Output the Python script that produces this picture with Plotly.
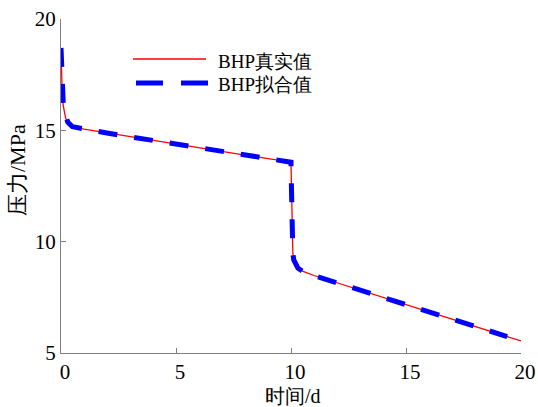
import plotly.graph_objects as go

# Bottom-hole pressure history (time in days, pressure in MPa)
t_true = [0, 0.02, 0.05, 0.1, 0.15, 0.2, 0.3, 0.5, 1, 2, 3, 4, 5, 6, 7, 8, 9, 10.0,
          10.02, 10.04, 10.06, 10.08, 10.12, 10.2, 10.3, 10.5, 11, 12, 13, 14, 15,
          16, 17, 18, 19, 20]
p_true = [18.6, 17.6, 16.8, 16.1, 15.75, 15.55, 15.35, 15.15, 15.05, 14.88, 14.72,
          14.55, 14.39, 14.22, 14.06, 13.89, 13.73, 13.58,
          12.5, 11.0, 10.0, 9.5, 9.2, 8.95, 8.82, 8.68, 8.48, 8.16, 7.83, 7.50, 7.18,
          6.85, 6.52, 6.20, 5.87, 5.54]

t_fit = [0, 0.02, 0.05, 0.1, 0.15, 0.2, 0.3, 0.5, 1, 2, 3, 4, 5, 6, 7, 8, 9, 10.0,
         10.02, 10.04, 10.06, 10.08, 10.12, 10.2, 10.3, 10.5, 11, 12, 13, 14, 15,
         16, 17, 18, 19, 19.4]
p_fit = [18.7, 17.7, 16.9, 16.15, 15.78, 15.57, 15.36, 15.16, 15.05, 14.88, 14.71,
         14.55, 14.38, 14.22, 14.05, 13.89, 13.72, 13.57,
         12.4, 10.9, 9.95, 9.48, 9.18, 8.94, 8.81, 8.67, 8.47, 8.15, 7.83, 7.50, 7.17,
         6.85, 6.52, 6.19, 5.87, 5.74]

legend_labels = ["BHP真实值", "BHP拟合值"]
x_title = "时间/d"
y_title = "压力/MPa"
x_ticks = [0, 5, 10, 15, 20]
y_ticks = [5, 10, 15, 20]

FONT = "Liberation Serif"
AXIS_GRAY = "#808080"

fig = go.Figure()
fig.add_trace(go.Scatter(x=t_true, y=p_true, mode="lines",
                         line=dict(color="#ff0000", width=1.3),
                         name=legend_labels[0], showlegend=False))
fig.add_trace(go.Scatter(x=t_fit, y=p_fit, mode="lines",
                         line=dict(color="#0000ff", width=5, dash="19px,17px"),
                         name=legend_labels[1], showlegend=False))

# Page-pixel helpers for the legend block and axis titles
L, R, T, B = 61, 17, 19, 54
W, H = 538 - L - R, 407 - T - B


def px(xp):
    return (xp - L) / W


def py(yp):
    return 1 - (yp - T) / H


# Hand-drawn legend block (long line samples)
fig.add_shape(type="line", xref="paper", yref="paper",
              x0=px(133), x1=px(206), y0=py(59), y1=py(59),
              line=dict(color="#ff0000", width=1.3))
fig.add_shape(type="line", xref="paper", yref="paper",
              x0=px(136), x1=px(209), y0=py(83), y1=py(83),
              line=dict(color="#0000ff", width=5, dash="27px,18px"))
for label, yp in zip(legend_labels, [61, 84]):
    fig.add_annotation(text=label, xref="paper", yref="paper",
                       x=px(216), y=py(yp), xanchor="left", yanchor="middle",
                       showarrow=False, font=dict(family=FONT, size=19, color="black"))

# Axis titles
fig.add_annotation(text=x_title, xref="paper", yref="paper",
                   x=px(293), y=py(396), xanchor="center", yanchor="middle",
                   showarrow=False, font=dict(family=FONT, size=20, color="black"))
fig.add_annotation(text=y_title, xref="paper", yref="paper", textangle=-90,
                   x=px(17), y=py(170), xanchor="center", yanchor="middle",
                   showarrow=False, font=dict(family=FONT, size=22, color="black"))

axis_common = dict(showline=True, linecolor=AXIS_GRAY, linewidth=1,
                   ticks="inside", ticklen=5, tickcolor=AXIS_GRAY, tickwidth=1,
                   showgrid=False, zeroline=False, mirror=False, automargin=False,
                   tickfont=dict(family=FONT, size=21, color="black"))

fig.update_xaxes(range=[0, 20], tickvals=x_ticks, ticktext=[str(v) for v in x_ticks],
                 ticklabelshift=4, **axis_common)
fig.update_yaxes(range=[5, 20], tickvals=y_ticks, ticktext=[str(v) for v in y_ticks],
                 **axis_common)

fig.update_layout(width=538, height=407, autosize=False,
                  margin=dict(l=L, r=R, t=T, b=B),
                  paper_bgcolor="white", plot_bgcolor="white")

fig.write_html("out.html")
